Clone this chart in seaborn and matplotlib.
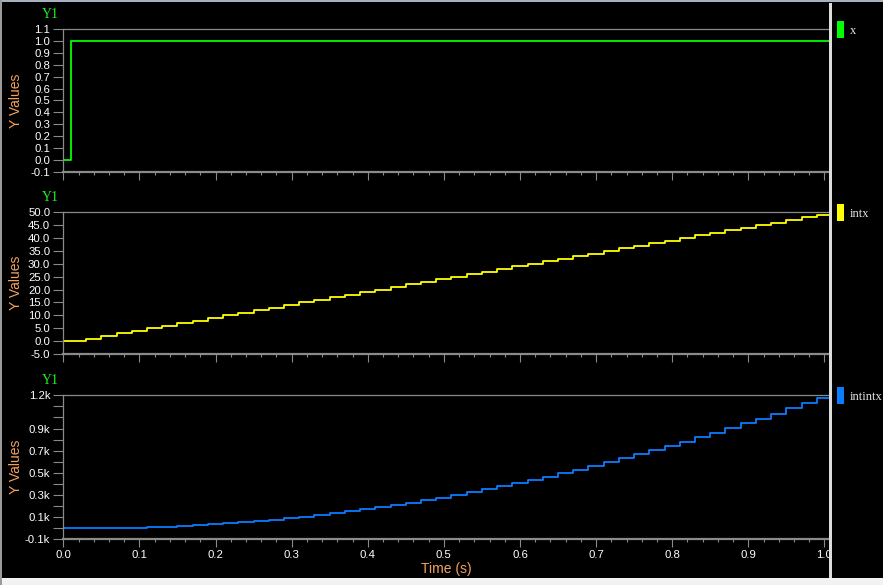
import pandas as pd
import matplotlib
matplotlib.use('Agg')
import matplotlib.pyplot as plt
import seaborn as sns
from matplotlib.patches import Rectangle
from matplotlib.ticker import MultipleLocator, FuncFormatter

# Signal x: unit step at t = 0.01
x_time = [0.0, 0.01, 1.01]
x_vals = [0.0, 1.0, 1.0]

# Sample times for the integrated signals
time = [0.0, 0.01, 0.03, 0.05, 0.07, 0.09, 0.11, 0.13, 0.15, 0.17, 0.19,
        0.21, 0.23, 0.25, 0.27, 0.29, 0.31, 0.33, 0.35, 0.37, 0.39,
        0.41, 0.43, 0.45, 0.47, 0.49, 0.51, 0.53, 0.55, 0.57, 0.59,
        0.61, 0.63, 0.65, 0.67, 0.69, 0.71, 0.73, 0.75, 0.77, 0.79,
        0.81, 0.83, 0.85, 0.87, 0.89, 0.91, 0.93, 0.95, 0.97, 0.99, 1.01]

intx = [0, 0, 1, 2, 3, 4, 5, 6, 7, 8, 9,
        10, 11, 12, 13, 14, 15, 16, 17, 18, 19,
        20, 21, 22, 23, 24, 25, 26, 27, 28, 29,
        30, 31, 32, 33, 34, 35, 36, 37, 38, 39,
        40, 41, 42, 43, 44, 45, 46, 47, 48, 49, 49]

intintx = [0, 0, 0, 1, 3, 6, 10, 15, 21, 28, 36,
           45, 55, 66, 78, 91, 105, 120, 136, 153, 171,
           190, 210, 231, 253, 276, 300, 325, 351, 378, 406,
           435, 465, 496, 528, 561, 595, 630, 666, 703, 741,
           780, 820, 861, 903, 946, 990, 1035, 1081, 1128, 1176, 1176]

series_names = ['x', 'intx', 'intintx']
series_colors = ['#00ff00', '#ffff00', '#0a7cff']

# labelled ticks on the bottom panel (k units)
k_labels = {-100: '-0.1k', 100: '0.1k', 300: '0.3k', 500: '0.5k',
            700: '0.7k', 900: '0.9k', 1200: '1.2k'}

df_x = pd.DataFrame({'time': x_time, 'x': x_vals})
df = pd.DataFrame({'time': time, 'intx': intx, 'intintx': intintx})

sns.set_style('dark')
plt.rcParams['font.family'] = ['Liberation Sans', 'DejaVu Sans']
plt.rcParams['axes.unicode_minus'] = False

W, H = 883, 585
fig = plt.figure(figsize=(W / 100, H / 100), dpi=100, facecolor='black')


def fx(px):
    return px / W


def fy(py):
    return 1 - py / H


left = fx(63.3)
width = fx(829) - left
panels = [(29.3, 171.7), (212.3, 354.0), (395.3, 539.3)]
axes = []
for top, bot in panels:
    ax = fig.add_axes([left, fy(bot), width, (bot - top) / H])
    ax.set_facecolor('black')
    axes.append(ax)

ax1, ax2, ax3 = axes
orange = '#f5a15e'
grey = '#8a8a8a'

sns.lineplot(data=df_x, x='time', y='x', ax=ax1, color=series_colors[0],
             drawstyle='steps-post', estimator=None, lw=1.3)
sns.lineplot(data=df, x='time', y='intx', ax=ax2, color=series_colors[1],
             drawstyle='steps-post', estimator=None, lw=1.3)
sns.lineplot(data=df, x='time', y='intintx', ax=ax3, color=series_colors[2],
             drawstyle='steps-post', estimator=None, lw=1.3)

ax1.set_ylim(-0.1, 1.1)
ax1.yaxis.set_major_locator(MultipleLocator(0.1))
ax1.yaxis.set_major_formatter(FuncFormatter(lambda v, p: f'{v:.1f}'))

ax2.set_ylim(-5, 50)
ax2.yaxis.set_major_locator(MultipleLocator(5))
ax2.yaxis.set_major_formatter(FuncFormatter(lambda v, p: f'{v:.1f}'))

ax3.set_ylim(-100, 1200)
ax3.yaxis.set_major_locator(MultipleLocator(100))
ax3.yaxis.set_major_formatter(
    FuncFormatter(lambda v, p: k_labels.get(int(round(v)), '')))

for i, ax in enumerate(axes):
    ax.set_xlim(0, 1.006)
    ax.xaxis.set_major_locator(MultipleLocator(0.1))
    ax.xaxis.set_minor_locator(MultipleLocator(0.02))
    ax.xaxis.set_major_formatter(FuncFormatter(lambda v, p: f'{v:.1f}'))
    ax.grid(False)
    ax.spines['right'].set_visible(False)
    for side in ['top', 'left']:
        ax.spines[side].set_color(grey)
        ax.spines[side].set_linewidth(0.9)
    ax.spines['bottom'].set_color(grey)
    ax.spines['bottom'].set_linewidth(1.6)
    ax.tick_params(axis='y', which='major', left=True, length=7.2, width=0.8,
                   color=grey, labelcolor='white', labelsize=8.2, pad=2.2)
    ax.tick_params(axis='x', which='major', bottom=True, length=5.5, width=0.8,
                   color=grey, labelcolor='white', labelsize=8.2, pad=2.5)
    ax.tick_params(axis='x', which='minor', bottom=True, length=2.5, width=0.8,
                   color=grey)
    if i < 2:
        ax.tick_params(axis='x', labelbottom=False)
        ax.set_xlabel('')
    ax.set_ylabel('Y Values', color=orange, fontsize=10)
    ax.yaxis.set_label_coords(-0.053, 0.5)
    ax.annotate('Y1', xy=(0, 1), xycoords='axes fraction',
                xytext=(-13, 15), textcoords='offset pixels',
                ha='center', va='center', color='#22ee22', fontsize=10,
                family=['Liberation Serif', 'DejaVu Serif'])

ax3.set_xlabel('Time (s)', color=orange, fontsize=10, labelpad=1)

# right legend panel and window edges
fig.patches.append(Rectangle((fx(832), 0), 1 - fx(832), 1, transform=fig.transFigure,
                             facecolor='black', edgecolor='none', zorder=1))
fig.patches.append(Rectangle((fx(829), 0), fx(832) - fx(829), fy(3), transform=fig.transFigure,
                             facecolor='#dcdcdc', edgecolor='none', zorder=2))
fig.patches.append(Rectangle((0, 0), 1, 7 / H, transform=fig.transFigure,
                             facecolor='#f2f2f2', edgecolor='none', zorder=2))
fig.patches.append(Rectangle((0, fy(2)), 1, 2 / H, transform=fig.transFigure,
                             facecolor='#a8b0c0', edgecolor='none', zorder=2))
fig.patches.append(Rectangle((0, 0), 2 / W, 1, transform=fig.transFigure,
                             facecolor='#9a9a9a', edgecolor='none', zorder=2))

legend_tops = [21, 204, 387]
for name, color, top in zip(series_names, series_colors, legend_tops):
    fig.patches.append(Rectangle((fx(837), fy(top + 17)), 7 / W, 17 / H,
                                 transform=fig.transFigure, facecolor=color,
                                 edgecolor='none', zorder=3))
    fig.text(fx(850), fy(top + 10), name, color='#e6e6e6', fontsize=9,
             ha='left', va='center', family=['Liberation Serif', 'DejaVu Serif'])

fig.savefig('out.png', dpi=100, facecolor='black')
